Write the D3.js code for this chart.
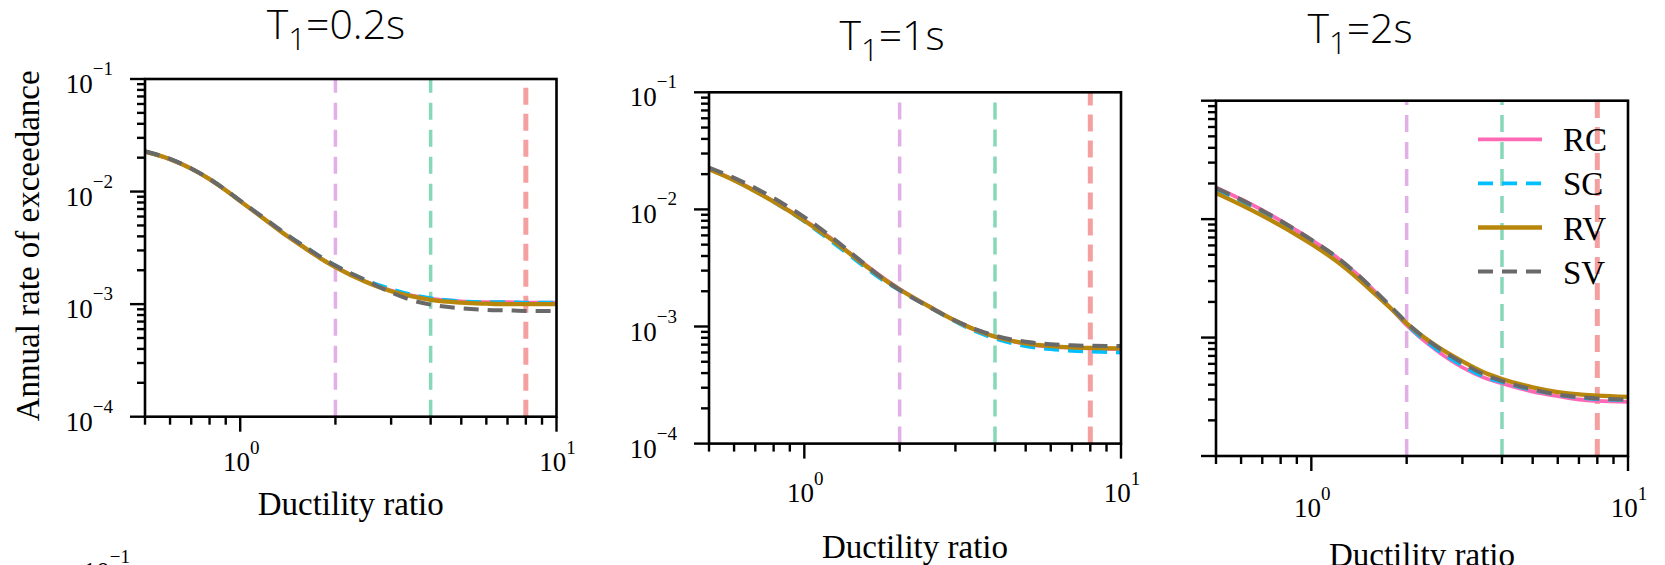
<!DOCTYPE html>
<html>
<head>
<meta charset="utf-8">
<script src="https://cdn.jsdelivr.net/npm/d3@7"></script>
<style>
  html, body { margin: 0; padding: 0; background: #fff; }
  svg { display: block; }
</style>
</head>
<body>
<svg id="chart" width="1665" height="565"></svg>
<script>
// ---------------- data ----------------
const ductility = [0.5, 0.6, 0.7, 0.8, 0.9, 1.0, 1.2, 1.4, 1.6, 1.8, 2.0, 2.5, 3.0, 3.5, 4.0, 5.0, 6.0, 7.0, 8.0, 10.0];
const seriesNames = ["RC", "SC", "RV", "SV"];
const periodLabels = ["0.2s", "1s", "2s"];
const limitStates = [2, 4, 8];
const yTickValues = [1e-1, 1e-2, 1e-3, 1e-4];
const yTickExponents = ["−1", "−2", "−3", "−4"];
const xTickValues = [1, 10];
const xTickExponents = ["0", "1"];

// T1 = 0.2 s
const rc02 = [0.02265, 0.01941, 0.01600, 0.01291, 0.01028, 0.00822, 0.00562, 0.00407, 0.00316, 0.00254, 0.00214, 0.00158, 0.00132, 0.00119, 0.00112, 0.00106, 0.00104, 0.00104, 0.00103, 0.00103];
const sc02 = [0.02265, 0.01941, 0.01600, 0.01291, 0.01030, 0.00826, 0.00570, 0.00415, 0.00325, 0.00262, 0.00221, 0.00163, 0.00136, 0.00121, 0.00113, 0.00106, 0.00104, 0.00104, 0.00103, 0.00103];
const rv02 = [0.02265, 0.01941, 0.01600, 0.01291, 0.01028, 0.00822, 0.00562, 0.00407, 0.00316, 0.00254, 0.00213, 0.00157, 0.00130, 0.00117, 0.00109, 0.00103, 0.00101, 0.00100, 0.00100, 0.00100];
const sv02 = [0.02280, 0.01950, 0.01605, 0.01295, 0.01035, 0.00830, 0.00572, 0.00418, 0.00325, 0.00262, 0.00220, 0.00163, 0.00127, 0.00108, 0.00099, 0.00092, 0.00089, 0.00088, 0.00087, 0.00087];
// T1 = 1 s
const rc10 = [0.0222, 0.0178, 0.0144, 0.0117, 0.0097, 0.0081, 0.0058, 0.0042, 0.0032, 0.00253, 0.00209, 0.00147, 0.00112, 0.00093, 0.00082, 0.00071, 0.00067, 0.00066, 0.00065, 0.00064];
const sc10 = [0.0222, 0.0178, 0.0143, 0.0116, 0.0095, 0.0079, 0.0055, 0.0040, 0.00302, 0.00242, 0.00204, 0.00145, 0.00110, 0.00090, 0.00079, 0.00068, 0.00064, 0.00062, 0.00061, 0.00060];
const rv10 = [0.02198, 0.01770, 0.01429, 0.01164, 0.00961, 0.00800, 0.00569, 0.00414, 0.00314, 0.00249, 0.00207, 0.00146, 0.00112, 0.000927, 0.000817, 0.000719, 0.000681, 0.000664, 0.000656, 0.00065];
const sv10 = [0.0228, 0.0186, 0.0152, 0.0125, 0.0103, 0.0086, 0.0060, 0.0043, 0.00318, 0.00249, 0.00205, 0.00145, 0.00112, 0.00094, 0.000835, 0.000740, 0.000705, 0.000690, 0.000684, 0.00068];
// T1 = 2 s
const rc20 = [0.0185, 0.0147, 0.0119, 0.0097, 0.0080, 0.0067, 0.0048, 0.0034, 0.00240, 0.00172, 0.00127, 0.00077, 0.00056, 0.00046, 0.00041, 0.00035, 0.00032, 0.000300, 0.000292, 0.000287];
const sc20 = [0.0178, 0.0142, 0.0115, 0.0094, 0.0078, 0.0065, 0.0047, 0.0033, 0.00238, 0.00173, 0.00129, 0.00079, 0.00058, 0.00047, 0.00042, 0.00036, 0.00033, 0.000312, 0.000303, 0.000297];
const rv20 = [0.0166, 0.0132, 0.0107, 0.0088, 0.00733, 0.00617, 0.00442, 0.00316, 0.00229, 0.00172, 0.00132, 0.00084, 0.00063, 0.00051, 0.000447, 0.00038, 0.000347, 0.000331, 0.000324, 0.000316];
const sv20 = [0.0183, 0.0146, 0.0118, 0.0097, 0.0080, 0.0067, 0.0048, 0.0034, 0.00243, 0.00178, 0.00134, 0.00083, 0.00061, 0.00049, 0.00043, 0.000365, 0.000330, 0.000315, 0.000306, 0.000300];

const panelSeries = [[rc02, sc02, rv02, sv02], [rc10, sc10, rv10, sv10], [rc20, sc20, rv20, sv20]];

// ---------------- styles / layout ----------------
const seriesStyle = [
  { color: "#ff69b4", dash: null, width: 3.8 },
  { color: "#00bfff", dash: "15,9", width: 3.8 },
  { color: "#b8860b", dash: null, width: 4.3 },
  { color: "#696969", dash: "15,9", width: 4.0 }
];
const limitStyle = [
  { color: "#e2b0e6", width: 3.5, dash: "17,10" },
  { color: "#86d8b9", width: 3.5, dash: "17,10" },
  { color: "#f4a0a0", width: 5, dash: "17,9" }
];
const panels = [
  { left: 145, right: 556.5, top: 79, bottom: 416.7, yLabels: true, yTitle: true, titleX: 336, titleY: 38.5, xTitleY: 515, xTickDy: 54 },
  { left: 709, right: 1121, top: 92.3, bottom: 443.6, yLabels: true, yTitle: false, titleX: 892, titleY: 50, xTitleY: 558, xTickDy: 58 },
  { left: 1216, right: 1628, top: 100.7, bottom: 456, yLabels: false, yTitle: false, titleX: 1360, titleY: 43, xTitleY: 566, xTickDy: 61, legend: true }
];

const serif = "'Liberation Serif', 'Times New Roman', serif";
const sans = "'Open Sans', 'Noto Sans', sans-serif";

const svg = d3.select("#chart");

function minorTicks(lo, hi) {
  const out = [];
  for (let e = Math.floor(Math.log10(lo)) - 1; e <= Math.ceil(Math.log10(hi)); e++) {
    for (let k = 1; k <= 9; k++) {
      const v = k * Math.pow(10, e);
      if (v >= lo * 0.999 && v <= hi * 1.001) out.push({ v, major: k === 1 });
    }
  }
  return out;
}

panels.forEach((p, i) => {
  const g = svg.append("g");
  const x = d3.scaleLog().domain([0.5, 10]).range([p.left, p.right]);
  const y = d3.scaleLog().domain([1e-4, 1e-1]).range([p.bottom, p.top]);

  // limit-state vertical lines
  limitStates.forEach((ls, j) => {
    g.append("line")
      .attr("x1", x(ls)).attr("x2", x(ls))
      .attr("y1", y(1e-4)).attr("y2", y(1e-1))
      .attr("stroke", limitStyle[j].color)
      .attr("stroke-width", limitStyle[j].width)
      .attr("stroke-dasharray", limitStyle[j].dash);
  });

  // curves
  const line = d3.line().x(d => x(d[0])).y(d => y(d[1])).curve(d3.curveMonotoneX);
  panelSeries[i].forEach((vals, s) => {
    const pts = ductility.map((d, k) => [d, vals[k]]);
    g.append("path")
      .attr("d", line(pts))
      .attr("fill", "none")
      .attr("stroke", seriesStyle[s].color)
      .attr("stroke-width", seriesStyle[s].width)
      .attr("stroke-dasharray", seriesStyle[s].dash);
  });

  // frame
  g.append("rect")
    .attr("x", p.left).attr("y", p.top)
    .attr("width", p.right - p.left).attr("height", p.bottom - p.top)
    .attr("fill", "none").attr("stroke", "#000").attr("stroke-width", 2.6);

  // y ticks
  minorTicks(1e-4, 1e-1).forEach(t => {
    g.append("line")
      .attr("x1", p.left).attr("x2", p.left - (t.major ? 15 : 8))
      .attr("y1", y(t.v)).attr("y2", y(t.v))
      .attr("stroke", "#000").attr("stroke-width", 2.4);
  });
  // x ticks
  minorTicks(0.5, 10).forEach(t => {
    g.append("line")
      .attr("x1", x(t.v)).attr("x2", x(t.v))
      .attr("y1", p.bottom).attr("y2", p.bottom + (t.major ? 15 : 8))
      .attr("stroke", "#000").attr("stroke-width", 2.4);
  });

  // y tick labels
  if (p.yLabels) {
    yTickValues.forEach((v, k) => {
      const t = g.append("text")
        .attr("x", p.left - 32).attr("y", y(v) + 14)
        .attr("text-anchor", "end")
        .attr("font-family", serif).attr("font-size", 27).attr("fill", "#000");
      t.append("tspan").text("10");
      t.append("tspan").attr("dy", -18).attr("font-size", 19).text(yTickExponents[k]);
    });
  }
  // x tick labels
  xTickValues.forEach((v, k) => {
    const t = g.append("text")
      .attr("x", x(v) + 1).attr("y", p.bottom + p.xTickDy)
      .attr("text-anchor", "middle")
      .attr("font-family", serif).attr("font-size", 27).attr("fill", "#000");
    t.append("tspan").text("10");
    t.append("tspan").attr("dy", -17).attr("font-size", 19).text(xTickExponents[k]);
  });

  // x axis title
  g.append("text")
    .attr("x", (p.left + p.right) / 2).attr("y", p.xTitleY)
    .attr("text-anchor", "middle")
    .attr("font-family", serif).attr("font-size", 33).attr("fill", "#000")
    .text("Ductility ratio");

  // y axis title
  if (p.yTitle) {
    g.append("text")
      .attr("transform", `translate(39, ${(p.top + p.bottom) / 2 - 2}) rotate(-90)`)
      .attr("text-anchor", "middle")
      .attr("font-family", serif).attr("font-size", 33).attr("fill", "#000")
      .text("Annual rate of exceedance");
  }

  // panel title
  const tt = g.append("text")
    .attr("x", p.titleX).attr("y", p.titleY)
    .attr("text-anchor", "middle")
    .attr("font-family", sans).attr("font-weight", 300).attr("font-size", 41).attr("fill", "#000");
  tt.append("tspan").text("T");
  tt.append("tspan").attr("dy", 11).attr("font-size", 31).text("1");
  tt.append("tspan").attr("dy", -11).text("=" + periodLabels[i]);

  // legend
  if (p.legend) {
    const lx0 = 1478, lx1 = 1542, ly0 = 139.3, dy = 44.1;
    seriesNames.forEach((name, s) => {
      const yy = ly0 + s * dy;
      g.append("line")
        .attr("x1", lx0).attr("x2", lx1).attr("y1", yy).attr("y2", yy)
        .attr("stroke", seriesStyle[s].color)
        .attr("stroke-width", seriesStyle[s].width)
        .attr("stroke-dasharray", seriesStyle[s].dash);
      g.append("text")
        .attr("x", 1563).attr("y", yy + 12)
        .attr("font-family", serif).attr("font-size", 33).attr("fill", "#000")
        .text(name);
    });
  }
});

// cropped tick label of the panel row below (visible only at its top edge)
const frag = svg.append("text")
  .attr("x", 130).attr("y", 581)
  .attr("text-anchor", "end")
  .attr("font-family", serif).attr("font-size", 27).attr("fill", "#000");
frag.append("tspan").text("10");
frag.append("tspan").attr("dy", -18).attr("font-size", 19).text(yTickExponents[0]);
</script>
</body>
</html>
